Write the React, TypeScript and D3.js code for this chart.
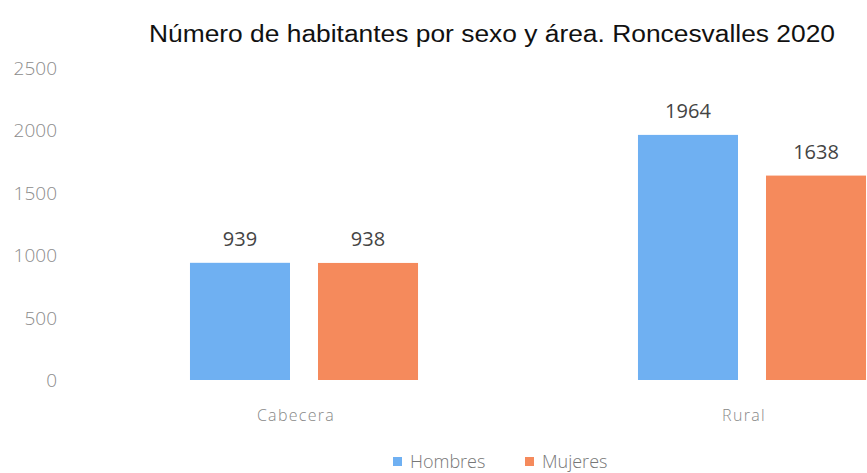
import * as d3 from 'd3';

const categories = ['Cabecera', 'Rural'];
const series = ['Hombres', 'Mujeres'];
const hombres = [939, 1964];
const mujeres = [938, 1638];
const yTicks = [0, 500, 1000, 1500, 2000, 2500];

const COLORS = ['#6fb0f2', '#f58a5c'];
const WIDTH = 867;
const HEIGHT = 473;
const TITLE = 'Número de habitantes por sexo y área. Roncesvalles 2020';

export default function App() {
  const values = [hombres, mujeres];

  const y = d3.scaleLinear().domain([0, 2500]).range([380, 68]);
  const x0 = d3.scaleBand<string>().domain(categories).range([80, 976]).padding(0);
  const x1 = d3
    .scaleBand<string>()
    .domain(series)
    .range([0, x0.bandwidth()])
    .paddingInner(0.21875)
    .paddingOuter(0.859);

  return (
    <div style={{ position: 'absolute', left: 0, top: 0 }}>
      <svg width={WIDTH} height={HEIGHT} style={{ display: 'block', background: '#fff' }}>
        <text
          x={492}
          y={42}
          textAnchor="middle"
          fontFamily="Liberation Sans, Arial, sans-serif"
          fontSize={23}
          fill="#111"
          textLength={686}
          lengthAdjust="spacingAndGlyphs"
        >
          {TITLE}
        </text>

        {/* y axis labels */}
        {yTicks.map((t) => (
          <text
            key={t}
            x={57}
            y={y(t) + 7}
            textAnchor="end"
            fontFamily="Open Sans, sans-serif"
            fontSize={19}
            fontWeight={300}
            fill="#8c8c8c"
          >
            {t}
          </text>
        ))}

        {/* bars */}
        {categories.map((c, ci) => (
          <g key={c} transform={`translate(${x0(c)},0)`}>
            {series.map((s, si) => {
              const v = values[si][ci];
              const bx = x1(s)!;
              return (
                <g key={s}>
                  <rect
                    x={bx}
                    y={y(v)}
                    width={x1.bandwidth()}
                    height={y(0) - y(v)}
                    fill={COLORS[si]}
                  />
                  <text
                    x={bx + x1.bandwidth() / 2}
                    y={y(v) - 17}
                    textAnchor="middle"
                    fontFamily="Open Sans, sans-serif"
                    fontSize={20}
                    fill="#444"
                  >
                    {v}
                  </text>
                </g>
              );
            })}
            <text
              x={x0.bandwidth() / 2 - 8}
              y={421}
              textAnchor="middle"
              fontFamily="Open Sans, sans-serif"
              fontSize={16}
              fontWeight={300}
              letterSpacing={1.3}
              fill="#888"
            >
              {c}
            </text>
          </g>
        ))}

        {/* legend */}
        {series.map((s, i) => (
          <g key={s} transform={`translate(${393 + i * 132},0)`}>
            <rect x={0} y={457} width={9} height={9} fill={COLORS[i]} />
            <text
              x={17}
              y={468}
              fontFamily="Open Sans, sans-serif"
              fontSize={18}
              fontWeight={300}
              fill="#777"
            >
              {s}
            </text>
          </g>
        ))}
      </svg>
    </div>
  );
}
